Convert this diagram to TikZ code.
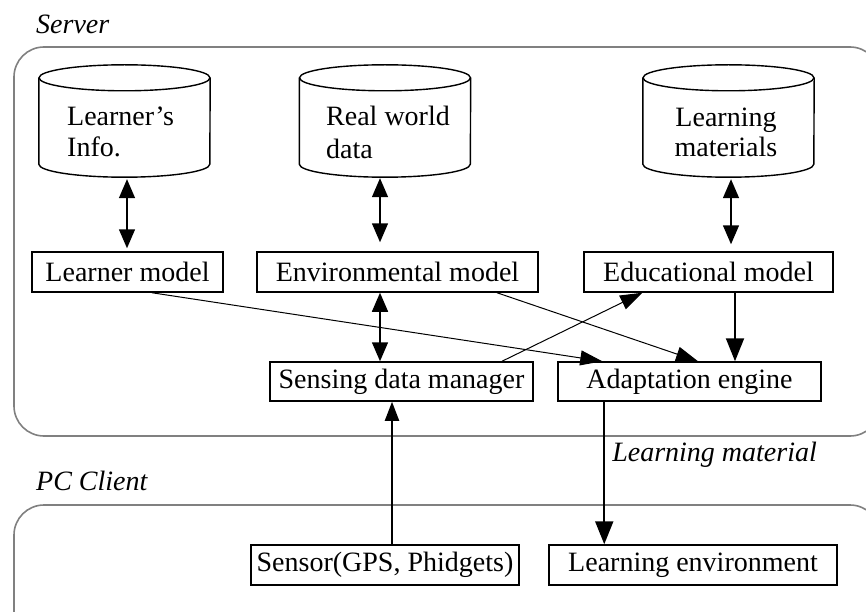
\documentclass[tikz,border=0pt]{standalone}
\usepackage{fontspec}
\setmainfont{Liberation Serif}
\usetikzlibrary{arrows.meta}

% outline of a database drum around an (invisible) rectangular node
\newcommand\drumoutline[1]{%
  \draw[drumline] ([yshift=-13pt]#1.north west) -- ([yshift=13pt]#1.south west)
    arc[start angle=180, end angle=0, x radius=85.5, y radius=13]
    -- ([yshift=-13pt]#1.north east);
  \draw[drumline] ([yshift=-13pt]#1.north) ellipse[x radius=85.5, y radius=13];
}

\begin{document}
\begin{tikzpicture}[x=1pt, y=-1pt,
  txt/.style={font=\fontsize{28}{31}\selectfont, inner sep=0pt},
  lbl/.style={font=\fontsize{28}{31}\selectfont\itshape, inner sep=0pt, anchor=base west},
  box/.style={draw, line width=1.5pt, font=\fontsize{28}{31}\selectfont, inner sep=0pt,
              minimum height=40pt},
  drum/.style={draw=none, minimum width=171pt, minimum height=112pt, inner sep=0pt},
  drumline/.style={line width=1.4pt},
  zone/.style={draw=black!50, line width=1.6pt, rounded corners=30pt},
  dbl/.style={{Triangle[length=19pt, width=16pt]}-{Triangle[length=19pt, width=16pt]}, line width=1.5pt},
  thin/.style={line width=1pt, -{Triangle[length=22pt, width=15pt]}},
  thick/.style={line width=2pt, -{Triangle[length=23pt, width=18pt]}},
]
\useasboundingbox (0,0) rectangle (866,612);
\clip (0,0) rectangle (866,612);

% areas
\draw[zone] (14,47) rectangle (880,436);
\draw[zone] (14,505) rectangle (880,650);
\node[lbl] (srv) at (36,34) {Server};
\node[lbl] (pcc) at (36,490) {PC Client};

% data stores
\node[drum] (info) at (124.5,121) {};
\node[drum] (rw)   at (385,121) {};
\node[drum] (mat)  at (728.5,121) {};
\drumoutline{info}
\drumoutline{rw}
\drumoutline{mat}
\node[txt, anchor=north west, align=left] (infotxt) at (67,107) {Learner's\\Info.};
\node[txt, anchor=north west, align=left, font=\fontsize{28}{33}\selectfont] (rwtxt) at (326,106) {Real world\\data};
\node[txt, anchor=north, align=center, font=\fontsize{28}{30}\selectfont] (mattxt) at (726,108) {Learning\\materials};

% server components
\node[box, minimum width=191pt] (lm)   at (127.5,272) {Learner model};
\node[box, minimum width=281pt] (env)  at (397.5,272) {Environmental model};
\node[box, minimum width=249pt] (edu)  at (708.5,272) {Educational model};
\node[box, minimum width=263pt, minimum height=39pt] (sdm)  at (401.5,381.5) {Sensing data manager};
\node[box, minimum width=263pt, minimum height=39pt] (ae)   at (689.5,381.5) {Adaptation engine};

% client components
\node[box, minimum width=268pt] (sen)  at (385,565) {Sensor(GPS, Phidgets)};
\node[box, minimum width=288pt] (le)   at (693,565) {Learning environment};

% connectors
\draw[dbl, shorten <=2pt, shorten >=3pt] ([xshift=-0.5pt]info.south -| lm.north) coordinate (a1)
  (a1) -- (a1 |- lm.north);
\draw[dbl, shorten <=1pt, shorten >=9pt] ([xshift=-5pt]rw.south) -- ([xshift=-5pt]rw.south |- env.north);
\draw[dbl, shorten <=2pt, shorten >=7pt] ([xshift=2.5pt]mat.south) -- ([xshift=2.5pt]mat.south |- edu.north);
\draw[dbl] ([xshift=-17.5pt]env.south) -- ([xshift=-17.5pt]env.south |- sdm.north);
\draw[line width=2pt, -{Triangle[length=19pt, width=14pt]}] ([xshift=7pt]sen.north) -- ([xshift=7pt]sen.north |- sdm.south);
\draw[thin] ([xshift=24.5pt]lm.south) -- ([xshift=45pt]ae.north west);
\draw[thin] ([xshift=99.5pt]env.south) -- ([xshift=8.5pt]ae.north);
\draw[thin] ([xshift=100.5pt]sdm.north) -- ([xshift=59pt]edu.south west);
\draw[thick] ([xshift=26.5pt]edu.south) -- ([xshift=26.5pt]edu.south |- ae.north);
\draw[thick] ([xshift=47pt]ae.south west) -- ([xshift=47pt]ae.south west |- le.north)
  node[lbl, pos=0.42, xshift=7pt] (lmat) {Learning material};
\end{tikzpicture}
\end{document}
